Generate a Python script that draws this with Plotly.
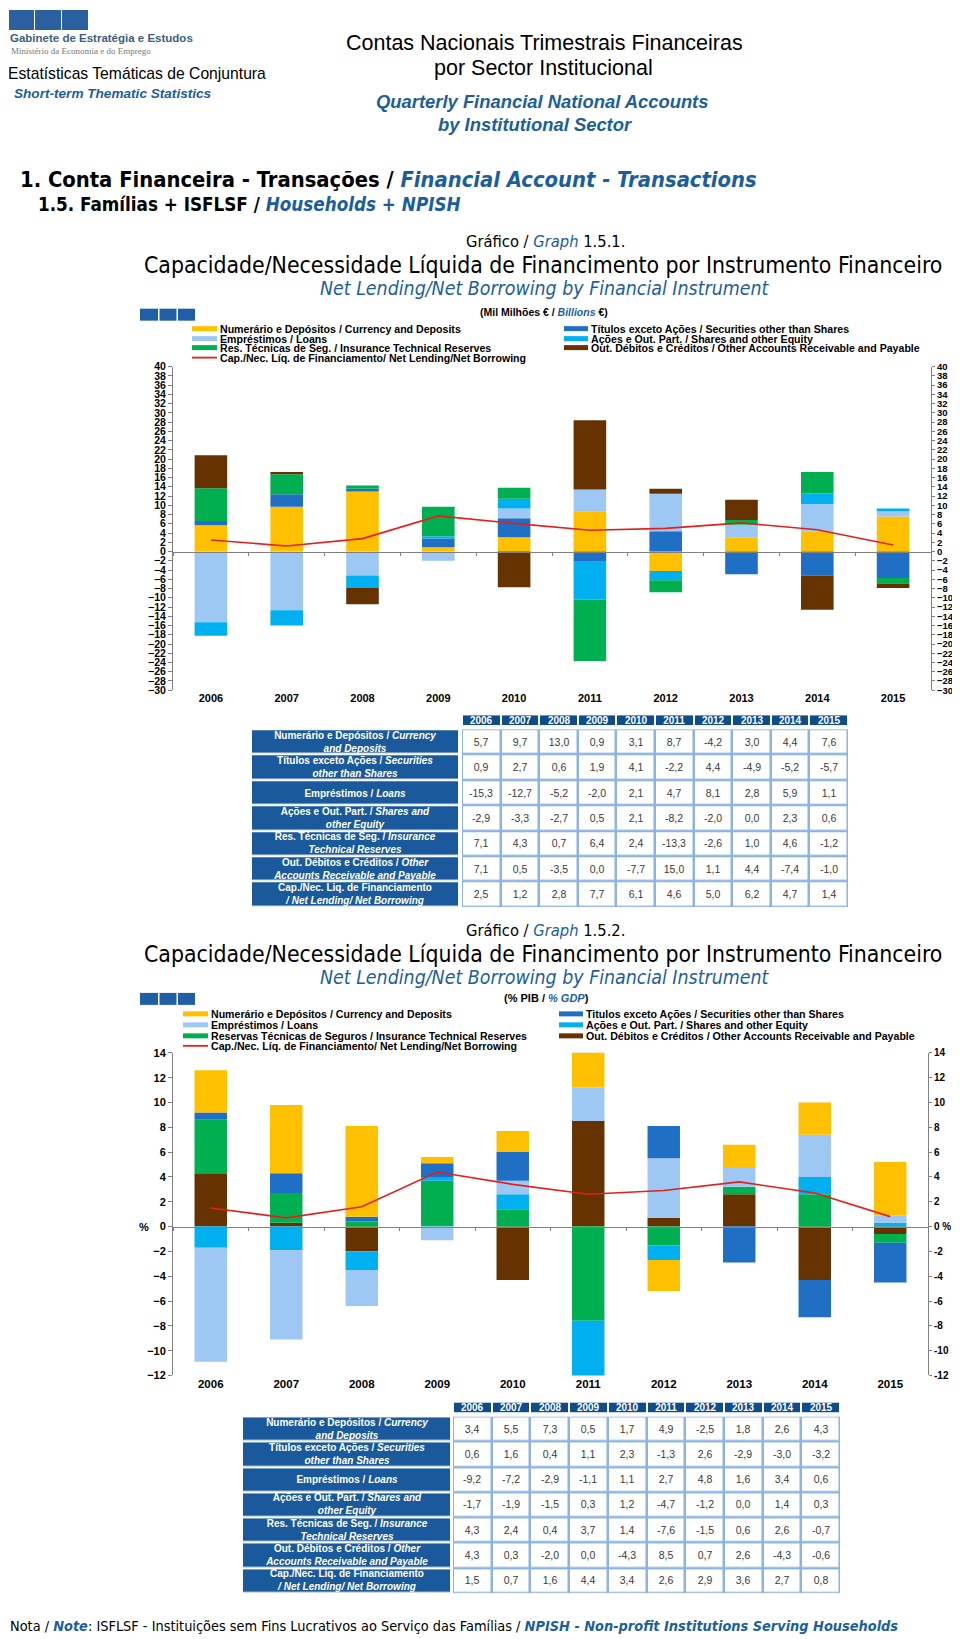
import plotly.graph_objects as go

# ---------------- data ----------------
years = ["2006", "2007", "2008", "2009", "2010", "2011", "2012", "2013", "2014", "2015"]

# Graph 1.5.1 (EUR billions)
cur_bn = [5.7, 9.7, 13.0, 0.9, 3.1, 8.7, -4.2, 3.0, 4.4, 7.6]
sec_bn = [0.9, 2.7, 0.6, 1.9, 4.1, -2.2, 4.4, -4.9, -5.2, -5.7]
loans_bn = [-15.3, -12.7, -5.2, -2.0, 2.1, 4.7, 8.1, 2.8, 5.9, 1.1]
shares_bn = [-2.9, -3.3, -2.7, 0.5, 2.1, -8.2, -2.0, 0.0, 2.3, 0.6]
ins_bn = [7.1, 4.3, 0.7, 6.4, 2.4, -13.3, -2.6, 1.0, 4.6, -1.2]
oth_bn = [7.1, 0.5, -3.5, 0.0, -7.7, 15.0, 1.1, 4.4, -7.4, -1.0]
net_bn = [2.5, 1.2, 2.8, 7.7, 6.1, 4.6, 5.0, 6.2, 4.7, 1.4]

# Graph 1.5.2 (% GDP)
cur_pct = [3.4, 5.5, 7.3, 0.5, 1.7, 4.9, -2.5, 1.8, 2.6, 4.3]
sec_pct = [0.6, 1.6, 0.4, 1.1, 2.3, -1.3, 2.6, -2.9, -3.0, -3.2]
loans_pct = [-9.2, -7.2, -2.9, -1.1, 1.1, 2.7, 4.8, 1.6, 3.4, 0.6]
shares_pct = [-1.7, -1.9, -1.5, 0.3, 1.2, -4.7, -1.2, 0.0, 1.4, 0.3]
ins_pct = [4.3, 2.4, 0.4, 3.7, 1.4, -7.6, -1.5, 0.6, 2.6, -0.7]
oth_pct = [4.3, 0.3, -2.0, 0.0, -4.3, 8.5, 0.7, 2.6, -4.3, -0.6]
net_pct = [1.5, 0.7, 1.6, 4.4, 3.4, 2.6, 2.9, 3.6, 2.7, 0.8]

row_names = ["Numerário", "Títulos", "Empréstimos", "Ações", "Res. Técnicas", "Out. Débitos", "Cap./Nec."]
row_labels = [
    ("Numerário e Depósitos / ", "Currency", "and Deposits"),
    ("Títulos exceto Ações / ", "Securities", "other than Shares"),
    ("Empréstimos / ", "Loans", None),
    ("Ações e Out. Part. / ", "Shares and", "other Equity"),
    ("Res. Técnicas de Seg. / ", "Insurance", "Technical Reserves"),
    ("Out. Débitos e Créditos / ", "Other", "Accounts Receivable and Payable"),
    ("Cap./Nec. Liq. de Financiamento", None, "/ Net Lending/ Net Borrowing"),
]

legend1_left = ["Numerário e Depósitos / Currency and Deposits", "Empréstimos / Loans",
                "Res. Técnicas de Seg. / Insurance Technical Reserves",
                "Cap./Nec. Líq. de Financiamento/ Net Lending/Net Borrowing"]
legend1_right = ["Títulos exceto Ações / Securities other than Shares",
                 "Ações e Out. Part. / Shares and other Equity",
                 "Out. Débitos e Créditos / Other Accounts Receivable and Payable"]
legend2_left = ["Numerário e Depósitos / Currency and Deposits", "Empréstimos / Loans",
                "Reservas Técnicas de Seguros / Insurance Technical Reserves",
                "Cap./Nec. Líq. de Financiamento/ Net Lending/Net Borrowing"]
legend2_right = ["Titulos exceto Ações / Securities other than Shares",
                 "Ações e Out. Part. / Shares and other Equity",
                 "Out. Débitos e Créditos / Other Accounts Receivable and Payable"]

# ---------------- style ----------------
W, H = 960, 1639
OX = 8                 # horizontal page offset
OY, SY = 13, 0.9938    # vertical page offset / scale
def X(px): return (px - OX) / W
def Y(py): return 1 - ((py - OY) / SY) / H

ARIAL = "Liberation Sans, Arial, Helvetica, sans-serif"
NARROW = "Liberation Sans Narrow, Arial Narrow, DejaVu Sans Condensed, sans-serif"
BLUE_TXT = "#1B5E9F"
C_CUR, C_SEC, C_LOAN, C_SHR, C_INS, C_OTH, C_NET = (
    "#FFC000", "#1F6FC5", "#9DC8F4", "#00B0F0", "#00B050", "#663300", "#E3201B")
HEAD_BLUE = "#0F4C8A"
LAB_BLUE = "#1A5A9C"
GRID_BLUE = "#8DB3E2"
AX_GRAY = "#808080"

fig = go.Figure()

def add_bars(order, xa, ya):
    for vals, col in order:
        fig.add_trace(go.Bar(x=years, y=vals, marker=dict(color=col, line=dict(width=0)),
                             xaxis=xa, yaxis=ya, showlegend=False, hoverinfo="skip"))

add_bars([(cur_bn, C_CUR), (sec_bn, C_SEC), (loans_bn, C_LOAN), (shares_bn, C_SHR),
          (ins_bn, C_INS), (oth_bn, C_OTH)], "x", "y")
fig.add_trace(go.Scatter(x=years, y=net_bn, mode="lines", line=dict(color=C_NET, width=1.6),
                         xaxis="x2", yaxis="y2", showlegend=False, hoverinfo="skip"))

add_bars([(oth_pct, C_OTH), (ins_pct, C_INS), (shares_pct, C_SHR), (loans_pct, C_LOAN),
          (sec_pct, C_SEC), (cur_pct, C_CUR)], "x3", "y3")
fig.add_trace(go.Scatter(x=years, y=net_pct, mode="lines", line=dict(color=C_NET, width=1.6),
                         xaxis="x4", yaxis="y4", showlegend=False, hoverinfo="skip"))

layout_axes = {}

def chart_axes(im, io, px0, px1, ptop, pbot, rng, dt, fsz, rfsz, ysz, right_text=False):
    dom_x = [X(px0), X(px1)]
    dom_y = [Y(pbot), Y(ptop)]
    zero_pos = dom_y[0] + (0 - rng[0]) / (rng[1] - rng[0]) * (dom_y[1] - dom_y[0])
    sm = "" if im == 1 else str(im)
    tf = dict(family=ARIAL, size=fsz, color="black", weight="bold")
    rtf = dict(family=ARIAL, size=rfsz, color="black", weight="bold")
    layout_axes["xaxis" + sm] = dict(domain=dom_x, anchor="y" + sm, type="category",
                                     categoryarray=years, range=[-0.5, 9.5], showline=False,
                                     ticks="", showgrid=False, zeroline=False,
                                     tickfont=dict(family=ARIAL, size=ysz, color="black", weight="bold"))
    yvals = list(range(rng[0], rng[1] + 1, dt))
    layout_axes["yaxis" + sm] = dict(domain=dom_y, anchor="x" + sm, range=rng, tickvals=yvals,
                                     showline=True, linecolor=AX_GRAY, ticks="outside", ticklen=4,
                                     tickcolor=AX_GRAY, showgrid=False, zeroline=False, tickfont=tf)
    layout_axes["xaxis" + str(io)] = dict(overlaying="x" + sm, anchor="free", position=zero_pos,
                                          type="category", categoryarray=years, range=[-0.5, 9.5],
                                          showline=True, linecolor=AX_GRAY, ticks="outside",
                                          tickson="boundaries", ticklen=3, tickcolor=AX_GRAY,
                                          showticklabels=False, showgrid=False, zeroline=False)
    if right_text:
        rt = dict(tickvals=yvals, ticktext=[("0 %" if v == 0 else str(v)) for v in yvals])
    else:
        rt = dict(tickvals=yvals)
    layout_axes["yaxis" + str(io)] = dict(overlaying="y" + sm, side="right", anchor="free",
                                          position=dom_x[1], range=rng, showline=True,
                                          linecolor=AX_GRAY, ticks="outside", ticklen=3,
                                          tickcolor=AX_GRAY, showgrid=False, zeroline=False,
                                          tickfont=rtf, **rt)

chart_axes(1, 2, 173, 931, 366, 690, [-30, 40], 2, 10.5, 9.5, 11)
chart_axes(3, 4, 173, 928, 1053, 1376, [-12, 14], 2, 11, 10, 11.5, right_text=True)

# ---------------- tables (heatmap cells) ----------------
def fmt(v):
    return f"{v:.1f}".replace(".", ",")

def label_html(p, e1, e2):
    s = f"<b>{p}</b>"
    if e1:
        s += f"<b><i>{e1}</i></b>"
    if e2:
        s += "<br>" + f"<b><i>{e2}</i></b>"
    return s

def blank_axes(n, dom_x, dom_y):
    layout_axes[f"xaxis{n}"] = dict(domain=dom_x, anchor=f"y{n}", showgrid=False, zeroline=False,
                                    showticklabels=False, ticks="", showline=False, type="category")
    layout_axes[f"yaxis{n}"] = dict(domain=dom_y, anchor=f"x{n}", showgrid=False, zeroline=False,
                                    showticklabels=False, ticks="", showline=False, type="category",
                                    autorange="reversed")

def add_table(n0, series, lab_px, dat_px, head_py, rows_py):
    nh, nl, nd = n0, n0 + 1, n0 + 2
    blank_axes(nh, [X(dat_px[0]), X(dat_px[1])], [Y(head_py[1]), Y(head_py[0])])
    blank_axes(nl, [X(lab_px[0]), X(lab_px[1])], [Y(rows_py[1]), Y(rows_py[0])])
    blank_axes(nd, [X(dat_px[0]), X(dat_px[1])], [Y(rows_py[1]), Y(rows_py[0])])
    # header row
    fig.add_trace(go.Heatmap(x=years, y=["Ano"], z=[[0] * len(years)], zmin=0, zmax=1,
                             colorscale=[[0, HEAD_BLUE], [1, HEAD_BLUE]], showscale=False, xgap=2,
                             text=[[f"<b>{y}</b>" for y in years]], texttemplate="%{text}",
                             textfont=dict(family=ARIAL, size=10, color="white"),
                             xaxis=f"x{nh}", yaxis=f"y{nh}", hoverinfo="skip"))
    # row labels
    fig.add_trace(go.Heatmap(x=["label"], y=row_names, z=[[0] for _ in row_names], zmin=0, zmax=1,
                             colorscale=[[0, LAB_BLUE], [1, LAB_BLUE]], showscale=False, ygap=2.5,
                             text=[[label_html(*r)] for r in row_labels], texttemplate="%{text}",
                             textfont=dict(family=ARIAL, size=10, color="white"),
                             xaxis=f"x{nl}", yaxis=f"y{nl}", hoverinfo="skip"))
    # data cells: blue backing + white cells with gaps
    fig.add_trace(go.Heatmap(x=years, y=row_names, z=[[0] * len(years) for _ in row_names],
                             zmin=0, zmax=1, colorscale=[[0, GRID_BLUE], [1, GRID_BLUE]],
                             showscale=False, xaxis=f"x{nd}", yaxis=f"y{nd}", hoverinfo="skip"))
    fig.add_trace(go.Heatmap(x=years, y=row_names, z=[[0] * len(years) for _ in row_names],
                             zmin=0, zmax=1, colorscale=[[0, "white"], [1, "white"]],
                             showscale=False, xgap=2.5, ygap=2.5,
                             text=[[fmt(v) for v in s] for s in series], texttemplate="%{text}",
                             textfont=dict(family=ARIAL, size=10.5, color="#3a3a3a"),
                             xaxis=f"x{nd}", yaxis=f"y{nd}", hoverinfo="skip"))

add_table(5, [cur_bn, sec_bn, loans_bn, shares_bn, ins_bn, oth_bn, net_bn],
          (252, 458), (462, 848), (715, 725), (729, 907))
add_table(8, [cur_pct, sec_pct, loans_pct, shares_pct, ins_pct, oth_pct, net_pct],
          (243, 450), (453, 840), (1403, 1413), (1417, 1594))

# ---------------- text & decorations ----------------
ann = []
shapes = []

def txt(x, y, text, size, family=ARIAL, color="black", xanchor="left", **kw):
    ann.append(dict(x=X(x), y=Y(y), xref="paper", yref="paper", text=text, showarrow=False,
                    xanchor=xanchor, yanchor="middle", font=dict(family=family, size=size, color=color),
                    **kw))

def blue(s):
    return f"<span style='color:{BLUE_TXT}'>{s}</span>"

# logo
for a, b in [(9, 34), (35, 61), (62, 88)]:
    shapes.append(dict(type="rect", xref="paper", yref="paper", x0=X(a), x1=X(b), y0=Y(29), y1=Y(9),
                       fillcolor="#2A60A0", line=dict(width=0)))
txt(8, 37, "<b>Gabinete de Estratégia e Estudos</b>", 11.5, color="#3D5E80")
txt(9, 50, "Ministério da Economia e do Emprego", 9, family="Liberation Serif, DejaVu Serif, serif", color="#777777")
txt(6, 73, "Estatísticas Temáticas de Conjuntura", 15.7)
txt(12, 93, "<b><i>Short-term Thematic Statistics</i></b>", 13.6, color=BLUE_TXT)
txt(544, 42, "Contas Nacionais Trimestrais Financeiras", 21.5, xanchor="center")
txt(543, 67, "por Sector Institucional", 21.5, xanchor="center")
txt(542, 101, "<b><i>Quarterly Financial National Accounts</i></b>", 18.4, color=BLUE_TXT, xanchor="center")
txt(535, 124, "<b><i>by Institutional Sector</i></b>", 18.4, color=BLUE_TXT, xanchor="center")

txt(18, 179, "<b>1. Conta Financeira - Transações / </b>" + blue("<b><i>Financial Account - Transactions</i></b>"),
    21.8, family=NARROW)
txt(36, 204, "<b>1.5. Famílias + ISFLSF / </b>" + blue("<b><i>Households + NPISH</i></b>"), 18.7, family=NARROW)

def graph_titles(num, y0):
    txt(545, y0, "Gráfico / " + blue("<i>Graph</i>") + f" {num}", 16.4, family=NARROW, xanchor="center")
    txt(543, y0 + 23, "Capacidade/Necessidade Líquida de Financimento por Instrumento Financeiro", 22.8,
        family=NARROW, xanchor="center")
    txt(544, y0 + 47, blue("<i>Net Lending/Net Borrowing by Financial Instrument</i>"), 19.4,
        family=NARROW, xanchor="center")

graph_titles("1.5.1.", 241)
graph_titles("1.5.2.", 931)

txt(544, 311, "<b>(Mil Milhões € / </b>" + blue("<b><i>Billions</i></b>") + "<b> €)</b>", 10.5, xanchor="center")
txt(546, 998, "<b>(% PIB / </b>" + blue("<b><i>% GDP</i></b>") + "<b>)</b>", 11, xanchor="center")

def blue_squares(ytop):
    for a, b in [(140, 158), (159.5, 176.5), (178, 195)]:
        shapes.append(dict(type="rect", xref="paper", yref="paper", x0=X(a), x1=X(b),
                           y0=Y(ytop + 12), y1=Y(ytop), fillcolor="#1F5FA6", line=dict(width=0)))

blue_squares(308)
blue_squares(993)

def legend_block(lx, rx, rows_y, left_items, right_items):
    left_cols = [C_CUR, C_LOAN, C_INS, C_NET]
    right_cols = [C_SEC, C_SHR, C_OTH]
    for i, (t, c) in enumerate(zip(left_items, left_cols)):
        yy = rows_y[i]
        if c == C_NET:
            shapes.append(dict(type="line", xref="paper", yref="paper", x0=X(lx), x1=X(lx + 25),
                               y0=Y(yy), y1=Y(yy), line=dict(color=c, width=1.8)))
        else:
            shapes.append(dict(type="rect", xref="paper", yref="paper", x0=X(lx), x1=X(lx + 25),
                               y0=Y(yy + 2.5), y1=Y(yy - 2.5), fillcolor=c, line=dict(width=0)))
        txt(lx + 25.5, yy, f"<b>{t}</b>", 10.6)
    for i, (t, c) in enumerate(zip(right_items, right_cols)):
        yy = rows_y[i]
        shapes.append(dict(type="rect", xref="paper", yref="paper", x0=X(rx), x1=X(rx + 24),
                           y0=Y(yy + 2.5), y1=Y(yy - 2.5), fillcolor=c, line=dict(width=0)))
        txt(rx + 24.5, yy, f"<b>{t}</b>", 10.6)

legend_block(192, 564, [328, 338, 347, 357], legend1_left, legend1_right)
legend_block(183, 559, [1014, 1025, 1036, 1046], legend2_left, legend2_right)

# "%" at zero on left of chart 2
ann.append(dict(x=X(144), y=0, xref="paper", yref="y3", text="<b>%</b>", showarrow=False,
                xanchor="center", yanchor="middle", font=dict(family=ARIAL, size=11, color="black")))

txt(8, 1627, "Nota / " + blue("<b><i>Note</i></b>") + ": ISFLSF - Instituições sem Fins Lucrativos ao Serviço das Famílias / "
    + blue("<b><i>NPISH - Non-profit Institutions Serving Households</i></b>"), 14.4, family=NARROW)

fig.update_layout(
    width=W, height=H, autosize=False,
    margin=dict(l=0, r=0, t=0, b=0),
    paper_bgcolor="white", plot_bgcolor="white",
    barmode="relative", bargap=0.57,
    showlegend=False,
    annotations=ann, shapes=shapes,
    **layout_axes,
)

fig.write_html("out.html")
